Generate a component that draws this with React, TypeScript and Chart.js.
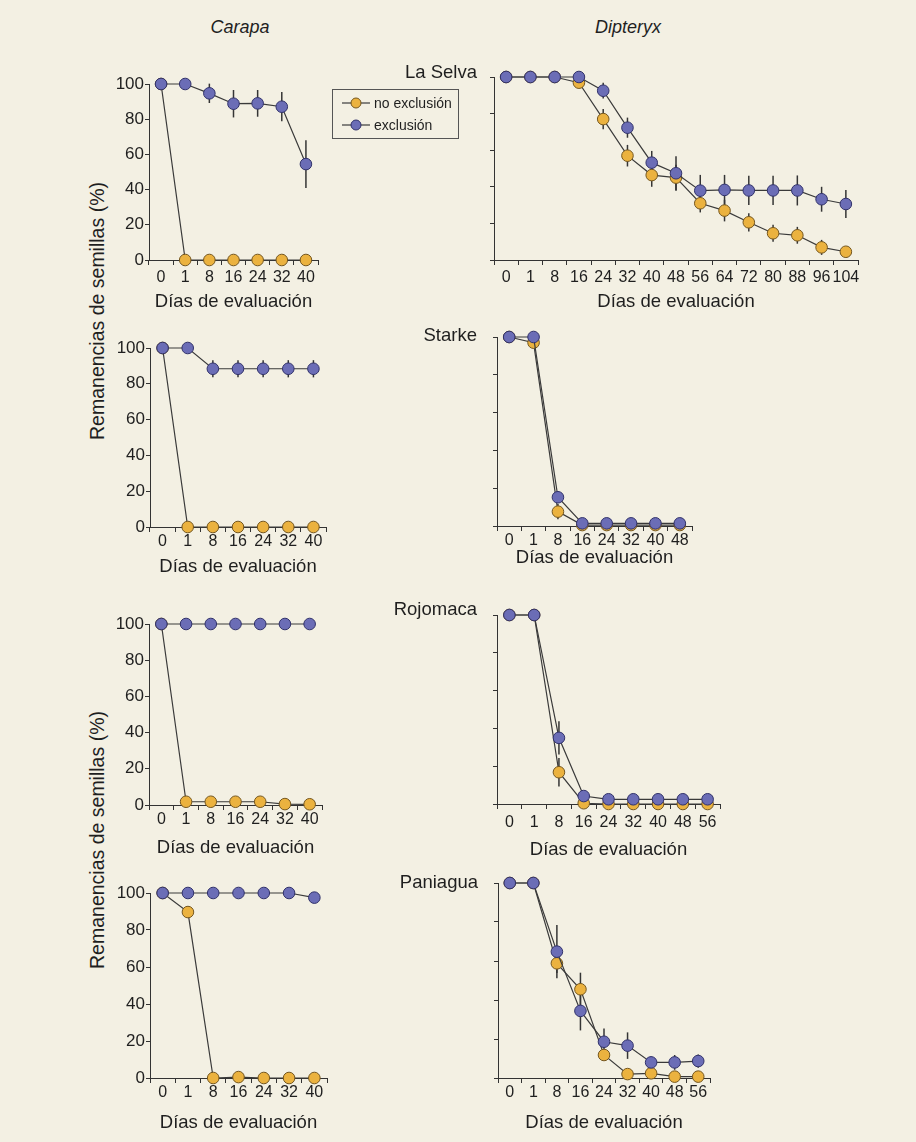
import React, { useEffect, useRef } from 'react';
import { Chart, registerables } from 'chart.js';

Chart.register(...registerables);

// ---------- data ----------
const carapaDays = ['0', '1', '8', '16', '24', '32', '40'];
const dipteryxSelvaDays = ['0', '1', '8', '16', '24', '32', '40', '48', '56', '64', '72', '80', '88', '96', '104'];
const dipteryxStarkeDays = ['0', '1', '8', '16', '24', '32', '40', '48'];
const dipteryxLateDays = ['0', '1', '8', '16', '24', '32', '40', '48', '56'];
const yTickValues = [0, 20, 40, 60, 80, 100];

// Carapa – La Selva
const carapaSelvaNoExcl = [100, 0, 0, 0, 0, 0, 0];
const carapaSelvaNoExclErr = [0, 0, 0, 0, 0, 0, 0];
const carapaSelvaExcl = [100, 100, 94.7, 88.8, 89, 87.1, 54.5];
const carapaSelvaExclErr = [0, 0, 5.5, 7.8, 7.6, 8.3, 13.6];

// Dipteryx – La Selva
const dipteryxSelvaNoExcl = [100, 100, 100, 96.9, 77, 57, 46.4, 45, 31, 27, 20.6, 14.6, 13.5, 6.9, 4.5];
const dipteryxSelvaNoExclErr = [0, 0, 0, 2.5, 5.5, 5.9, 6.4, 7.1, 5, 5.9, 5, 4.6, 4.6, 4.1, 2];
const dipteryxSelvaExcl = [100, 100, 100, 100, 92.5, 72.3, 53.2, 47.4, 37.9, 38.3, 38, 38, 38, 33.2, 30.6];
const dipteryxSelvaExclErr = [0, 0, 0, 0, 4.3, 5.5, 6.4, 9.3, 8.6, 8.2, 8, 8, 8.2, 6.8, 7.7];

// Carapa – Starke
const carapaStarkeNoExcl = [100, 0, 0, 0, 0, 0, 0];
const carapaStarkeNoExclErr = [0, 0, 0, 0, 0, 0, 0];
const carapaStarkeExcl = [100, 100, 88.4, 88.4, 88.4, 88.4, 88.4];
const carapaStarkeExclErr = [0, 0, 4.8, 4.8, 4.8, 4.8, 4.8];

// Dipteryx – Starke
const dipteryxStarkeNoExcl = [100, 97, 7.6, 0.5, 0.5, 0.5, 0.5, 0.5];
const dipteryxStarkeNoExclErr = [0, 1.5, 4, 0, 0, 0, 0, 0];
const dipteryxStarkeExcl = [100, 100, 15.2, 1.4, 1.4, 1.4, 1.4, 1.4];
const dipteryxStarkeExclErr = [0, 0, 3, 0, 0, 0, 0, 0];

// Carapa – Rojomaca
const carapaRojomacaNoExcl = [100, 1.8, 1.8, 1.8, 1.8, 0.5, 0.4];
const carapaRojomacaNoExclErr = [0, 0, 0, 0, 0, 0, 0];
const carapaRojomacaExcl = [100, 100, 100, 100, 100, 100, 100];
const carapaRojomacaExclErr = [0, 0, 0, 0, 0, 0, 0];

// Dipteryx – Rojomaca
const dipteryxRojomacaNoExcl = [100, 100, 16.8, 0.4, 0, 0, 0, 0, 0];
const dipteryxRojomacaNoExclErr = [0, 0, 7.5, 0, 0, 0, 0, 0, 0];
const dipteryxRojomacaExcl = [100, 100, 35, 4.2, 2.5, 2.5, 2.5, 2.5, 2.5];
const dipteryxRojomacaExclErr = [0, 0, 8.8, 1, 0, 0, 0, 0, 0];

// Carapa – Paniagua
const carapaPaniaguaNoExcl = [100, 89.7, 0, 0.5, 0, 0, 0];
const carapaPaniaguaNoExclErr = [0, 3, 0, 0, 0, 0, 0];
const carapaPaniaguaExcl = [100, 100, 100, 100, 100, 100, 97.5];
const carapaPaniaguaExclErr = [0, 0, 0, 0, 0, 0, 0];

// Dipteryx – Paniagua
const dipteryxPaniaguaNoExcl = [100, 100, 58.8, 45.5, 11.8, 2, 2.4, 0.7, 0.7];
const dipteryxPaniaguaNoExclErr = [0, 0, 5, 8.5, 2.5, 0, 0, 0, 0];
const dipteryxPaniaguaExcl = [100, 100, 64.8, 34.4, 18.6, 16.6, 8, 8, 8.7];
const dipteryxPaniaguaExclErr = [0, 0, 13.7, 10, 6.8, 6.8, 3, 3.8, 3.4];

// ---------- styles ----------
const FONT = '"Liberation Sans", Arial, Helvetica, sans-serif';
const BG = '#f3f0e3';
const TEXT = '#1f1f1f';
const AXIS = '#333333';
const LINE = '#3a3a3a';
const ERR = '#353535';
const ORANGE = '#ebb23f';
const ORANGE_BORDER = '#74561e';
const BLUE = '#6b6db6';
const BLUE_BORDER = '#30316a';
const YW = 40;
const PT = 12;
const PR = 12;

type PanelProps = {
  labels: string[];
  noExcl: number[];
  noExclErr: number[];
  excl: number[];
  exclErr: number[];
  l: number; r: number; t: number; b: number;
  showY: boolean;
  tickPad: number;
  axisH: number;
};

function Panel(p: PanelProps) {
  const ref = useRef<HTMLCanvasElement | null>(null);
  const width = p.r - p.l + YW + PR;
  const height = p.b - p.t + PT + p.axisH;
  useEffect(() => {
    if (!ref.current) return;
    const errs = [p.exclErr, p.noExclErr];
    const errorBars = {
      id: 'errorBars',
      beforeDatasetsDraw(chart: any) {
        const ctx = chart.ctx;
        const ys = chart.scales.y;
        ctx.save();
        ctx.strokeStyle = ERR;
        ctx.lineWidth = 1.5;
        chart.data.datasets.forEach((ds: any, i: number) => {
          const meta = chart.getDatasetMeta(i);
          meta.data.forEach((pt: any, j: number) => {
            const d = errs[i][j];
            if (!d) return;
            const v = ds.data[j];
            ctx.beginPath();
            ctx.moveTo(pt.x, ys.getPixelForValue(v + d));
            ctx.lineTo(pt.x, ys.getPixelForValue(Math.max(0, v - d)));
            ctx.stroke();
          });
        });
        ctx.restore();
      },
    };
    const chart = new Chart(ref.current, {
      type: 'line',
      data: {
        labels: p.labels,
        datasets: [
          {
            label: 'exclusión',
            data: p.excl,
            order: 0,
            borderColor: LINE,
            borderWidth: 1.2,
            pointBackgroundColor: BLUE,
            pointBorderColor: BLUE_BORDER,
            pointBorderWidth: 1,
            pointRadius: 5.8,
            tension: 0,
            clip: false,
          } as any,
          {
            label: 'no exclusión',
            data: p.noExcl,
            order: 1,
            borderColor: LINE,
            borderWidth: 1.2,
            pointBackgroundColor: ORANGE,
            pointBorderColor: ORANGE_BORDER,
            pointBorderWidth: 1,
            pointRadius: 5.8,
            tension: 0,
            clip: false,
          } as any,
        ],
      },
      options: {
        animation: false,
        responsive: false,
        devicePixelRatio: 1,
        events: [],
        layout: { padding: { top: PT, right: PR, left: 0, bottom: 0 } },
        plugins: { legend: { display: false }, tooltip: { enabled: false } },
        scales: {
          x: {
            type: 'category',
            offset: true,
            grid: { offset: true, drawOnChartArea: false, drawTicks: true, tickLength: 5, color: AXIS, lineWidth: 1 },
            border: { display: true, color: AXIS, width: 1 },
            ticks: {
              autoSkip: false, maxRotation: 0, minRotation: 0, padding: p.tickPad,
              color: TEXT, font: { family: FONT, size: 16 },
            },
            title: {
              display: true, text: 'Días de evaluación', color: TEXT, padding: 0,
              font: { family: FONT, size: 18.5 },
            },
            afterFit: (s: any) => { s.height = p.axisH; },
          } as any,
          y: {
            min: 0,
            max: 100,
            afterBuildTicks: (s: any) => { s.ticks = yTickValues.map((v) => ({ value: v })); },
            grid: { drawOnChartArea: false, drawTicks: true, tickLength: 4, color: AXIS, lineWidth: 1 },
            border: { display: true, color: AXIS, width: 1 },
            ticks: {
              display: p.showY, padding: 1, color: TEXT, font: { family: FONT, size: 17 },
            },
            afterFit: (s: any) => { s.width = YW; },
          } as any,
        },
      },
      plugins: [errorBars],
    });
    return () => chart.destroy();
  }, []);
  return (
    <canvas
      ref={ref}
      width={width}
      height={height}
      style={{ position: 'absolute', left: p.l - YW, top: p.t - PT, width, height }}
    />
  );
}

const centered = (x: number, y: number, extra: React.CSSProperties = {}): React.CSSProperties => ({
  position: 'absolute', left: x, top: y, transform: 'translate(-50%, -50%)', whiteSpace: 'nowrap',
  lineHeight: 1, fontFamily: FONT, color: TEXT, zIndex: 2, ...extra,
});
const rightAligned = (x: number, y: number): React.CSSProperties => ({
  position: 'absolute', left: x, top: y, transform: 'translate(-100%, -50%)', whiteSpace: 'nowrap',
  lineHeight: 1, fontFamily: FONT, color: TEXT, fontSize: 18.5, zIndex: 2,
});

function LegendMarker({ fill, stroke }: { fill: string; stroke: string }) {
  return (
    <svg width={28} height={12} style={{ display: 'block' }}>
      <line x1={0} y1={6} x2={28} y2={6} stroke={LINE} strokeWidth={1.2} />
      <circle cx={14} cy={6} r={5} fill={fill} stroke={stroke} strokeWidth={1} />
    </svg>
  );
}

export default function App() {
  return (
    <div style={{ position: 'absolute', left: 0, top: 0, width: 916, height: 1142, background: BG, overflow: 'hidden' }}>
      <div style={centered(240, 27, { fontSize: 18, fontStyle: 'italic' })}>Carapa</div>
      <div style={centered(628, 27, { fontSize: 18, fontStyle: 'italic' })}>Dipteryx</div>

      <div style={rightAligned(477, 72)}>La Selva</div>
      <div style={rightAligned(477, 335)}>Starke</div>
      <div style={rightAligned(477, 609)}>Rojomaca</div>
      <div style={rightAligned(478, 882)}>Paniagua</div>

      <div style={centered(98, 311, { fontSize: 19.5, transform: 'translate(-50%, -50%) rotate(-90deg)' })}>
        Remanencias de semillas (%)
      </div>
      <div style={centered(98, 840, { fontSize: 19.5, transform: 'translate(-50%, -50%) rotate(-90deg)' })}>
        Remanencias de semillas (%)
      </div>

      <div style={{ position: 'absolute', left: 332, top: 89, width: 127, height: 50, border: '1px solid #555', boxSizing: 'border-box', zIndex: 2, fontFamily: FONT, color: TEXT, fontSize: 14 }}>
        <div style={{ position: 'absolute', left: 9, top: 5, display: 'flex', alignItems: 'center', gap: 4, lineHeight: '16px' }}>
          <LegendMarker fill={ORANGE} stroke={ORANGE_BORDER} />
          <span>no exclusión</span>
        </div>
        <div style={{ position: 'absolute', left: 9, top: 27, display: 'flex', alignItems: 'center', gap: 4, lineHeight: '16px' }}>
          <LegendMarker fill={BLUE} stroke={BLUE_BORDER} />
          <span>exclusión</span>
        </div>
      </div>

      <Panel labels={carapaDays} noExcl={carapaSelvaNoExcl} noExclErr={carapaSelvaNoExclErr} excl={carapaSelvaExcl} exclErr={carapaSelvaExclErr}
        l={149} r={318} t={84} b={260} showY tickPad={3} axisH={53} />
      <Panel labels={dipteryxSelvaDays} noExcl={dipteryxSelvaNoExcl} noExclErr={dipteryxSelvaNoExclErr} excl={dipteryxSelvaExcl} exclErr={dipteryxSelvaExclErr}
        l={494} r={858} t={77} b={260} showY={false} tickPad={3} axisH={53} />
      <Panel labels={carapaDays} noExcl={carapaStarkeNoExcl} noExclErr={carapaStarkeNoExclErr} excl={carapaStarkeExcl} exclErr={carapaStarkeExclErr}
        l={150} r={326} t={348} b={527} showY tickPad={0} axisH={51} />
      <Panel labels={dipteryxStarkeDays} noExcl={dipteryxStarkeNoExcl} noExclErr={dipteryxStarkeNoExclErr} excl={dipteryxStarkeExcl} exclErr={dipteryxStarkeExclErr}
        l={497} r={692} t={337} b={526} showY={false} tickPad={0} axisH={43} />
      <Panel labels={carapaDays} noExcl={carapaRojomacaNoExcl} noExclErr={carapaRojomacaNoExclErr} excl={carapaRojomacaExcl} exclErr={carapaRojomacaExclErr}
        l={149} r={322} t={624} b={805} showY tickPad={0} axisH={54} />
      <Panel labels={dipteryxLateDays} noExcl={dipteryxRojomacaNoExcl} noExclErr={dipteryxRojomacaNoExclErr} excl={dipteryxRojomacaExcl} exclErr={dipteryxRojomacaExclErr}
        l={497} r={720} t={615} b={804} showY={false} tickPad={4} axisH={57} />
      <Panel labels={carapaDays} noExcl={carapaPaniaguaNoExcl} noExclErr={carapaPaniaguaNoExclErr} excl={carapaPaniaguaExcl} exclErr={carapaPaniaguaExclErr}
        l={150} r={327} t={893} b={1078} showY tickPad={0} axisH={56} />
      <Panel labels={dipteryxLateDays} noExcl={dipteryxPaniaguaNoExcl} noExclErr={dipteryxPaniaguaNoExclErr} excl={dipteryxPaniaguaExcl} exclErr={dipteryxPaniaguaExclErr}
        l={498} r={710} t={883} b={1078} showY={false} tickPad={0} axisH={56} />
    </div>
  );
}
